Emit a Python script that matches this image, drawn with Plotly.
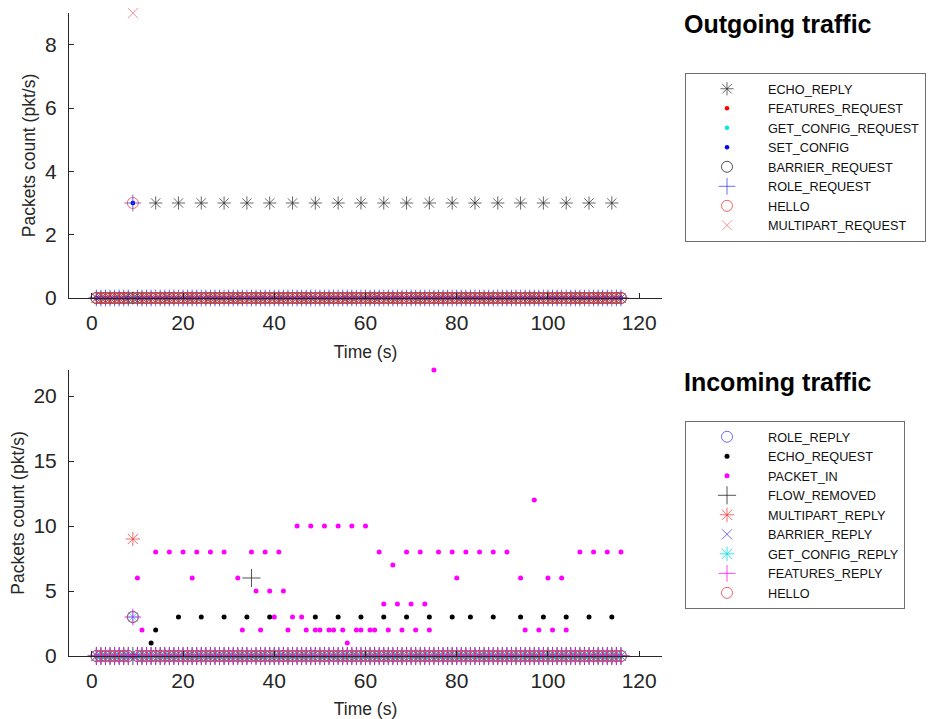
import plotly.graph_objects as go

# ---------------- data ----------------
TIME = list(range(1, 117))  # seconds

# Outgoing traffic: non-zero samples (time, value); all other seconds are 0
ECHO_REPLY_T = [14, 19, 24, 29, 34, 39, 44, 49, 54, 59, 64, 69, 74, 79, 84, 89, 94, 99, 104, 109, 114]
ECHO_REPLY_V = [3, 3, 3, 3, 3, 3, 3, 3, 3, 3, 3, 3, 3, 3, 3, 3, 3, 3, 3, 3, 3]
FEATURES_REQUEST_T = [9]
FEATURES_REQUEST_V = [3]
GET_CONFIG_REQUEST_T = [9]
GET_CONFIG_REQUEST_V = [3]
SET_CONFIG_T = [9]
SET_CONFIG_V = [3]
BARRIER_REQUEST_T = []
BARRIER_REQUEST_V = []
ROLE_REQUEST_T = [9]
ROLE_REQUEST_V = [3]
HELLO_OUT_T = [9]
HELLO_OUT_V = [3]
MULTIPART_REQUEST_T = [9]
MULTIPART_REQUEST_V = [9]

# Incoming traffic
ROLE_REPLY_T = [9]
ROLE_REPLY_V = [3]
ECHO_REQUEST_T = [13, 14, 19, 24, 29, 34, 39, 49, 54, 59, 64, 69, 74, 79, 83, 88, 94, 99, 104, 109, 114]
ECHO_REQUEST_V = [1, 2, 3, 3, 3, 3, 3, 3, 3, 3, 3, 3, 3, 3, 3, 3, 3, 3, 3, 3, 3]
PACKET_IN_T = [10, 11, 14, 17, 20, 22, 23, 26, 29, 32, 33, 35, 36, 37, 38, 39, 40, 41, 42, 43,
               44, 45, 46, 47, 48, 49, 50, 51, 52, 53, 54, 55, 56, 57, 58, 59, 60, 61, 62, 63,
               64, 65, 66, 67, 68, 69, 70, 71, 72, 73, 74, 75, 76, 79, 80, 82, 85, 88, 91, 94,
               95, 97, 98, 100, 101, 103, 104, 107, 110, 113, 116]
PACKET_IN_V = [6, 2, 8, 8, 8, 6, 8, 8, 8, 6, 2, 8, 5, 2, 8, 5, 3, 8, 5, 2,
               3, 10, 3, 2, 10, 2, 2, 10, 2, 2, 10, 2, 1, 10, 2, 2, 10, 2, 2, 8,
               4, 2, 7, 4, 2, 8, 4, 2, 8, 4, 2, 22, 8, 8, 6, 8, 8, 8, 8, 6,
               2, 12, 2, 6, 2, 6, 2, 8, 8, 8, 8]
FLOW_REMOVED_T = [35]
FLOW_REMOVED_V = [6]
MULTIPART_REPLY_T = [9]
MULTIPART_REPLY_V = [9]
BARRIER_REPLY_T = []
BARRIER_REPLY_V = []
GET_CONFIG_REPLY_T = [9]
GET_CONFIG_REPLY_V = [3]
FEATURES_REPLY_T = [9]
FEATURES_REPLY_V = [3]
HELLO_IN_T = [9]
HELLO_IN_V = [3]

X_TICKS = [0, 20, 40, 60, 80, 100, 120]
Y_TICKS_OUT = [0, 2, 4, 6, 8]
Y_TICKS_IN = [0, 5, 10, 15, 20]


def full_series(ts, vs):
    vals = [0] * len(TIME)
    for t, v in zip(ts, vs):
        vals[TIME.index(t)] = v
    return vals


# ---------------- styles ----------------
def sty(symbol, color, size, lw=1.0):
    return dict(symbol=symbol, size=size, color=color, line=dict(color=color, width=lw))

RED_L = "rgba(235,60,60,0.78)"
BLUE_L = "rgba(60,60,235,0.75)"

out_series = [
    ("ECHO_REPLY", ECHO_REPLY_T, ECHO_REPLY_V, sty("asterisk-open", "rgba(40,40,40,0.7)", 11)),
    ("FEATURES_REQUEST", FEATURES_REQUEST_T, FEATURES_REQUEST_V, sty("circle", "#ff0000", 4.5, 0)),
    ("GET_CONFIG_REQUEST", GET_CONFIG_REQUEST_T, GET_CONFIG_REQUEST_V, sty("circle", "#00e5ee", 4.5, 0)),
    ("SET_CONFIG", SET_CONFIG_T, SET_CONFIG_V, sty("circle", "#0000ff", 4.5, 0)),
    ("BARRIER_REQUEST", BARRIER_REQUEST_T, BARRIER_REQUEST_V, sty("circle-open", "rgba(40,40,40,0.8)", 11)),
    ("ROLE_REQUEST", ROLE_REQUEST_T, ROLE_REQUEST_V, sty("cross-thin-open", BLUE_L, 12)),
    ("HELLO", HELLO_OUT_T, HELLO_OUT_V, sty("circle-open", RED_L, 11)),
    ("MULTIPART_REQUEST", MULTIPART_REQUEST_T, MULTIPART_REQUEST_V, sty("x-thin-open", "rgba(235,80,80,0.6)", 10)),
]

in_series = [
    ("ROLE_REPLY", ROLE_REPLY_T, ROLE_REPLY_V, sty("circle-open", BLUE_L, 11)),
    ("ECHO_REQUEST", ECHO_REQUEST_T, ECHO_REQUEST_V, sty("circle", "#000000", 5, 0)),
    ("PACKET_IN", PACKET_IN_T, PACKET_IN_V, sty("circle", "#ff00ff", 5, 0)),
    ("FLOW_REMOVED", FLOW_REMOVED_T, FLOW_REMOVED_V, sty("cross-thin-open", "rgba(40,40,40,0.8)", 13)),
    ("MULTIPART_REPLY", MULTIPART_REPLY_T, MULTIPART_REPLY_V, sty("asterisk-open", "rgba(235,60,60,0.75)", 12)),
    ("BARRIER_REPLY", BARRIER_REPLY_T, BARRIER_REPLY_V, sty("x-thin-open", BLUE_L, 10)),
    ("GET_CONFIG_REPLY", GET_CONFIG_REPLY_T, GET_CONFIG_REPLY_V, sty("asterisk-open", "rgba(0,220,230,0.8)", 12)),
    ("FEATURES_REPLY", FEATURES_REPLY_T, FEATURES_REPLY_V, sty("cross-thin-open", "rgba(255,0,255,0.75)", 12)),
    ("HELLO", HELLO_IN_T, HELLO_IN_V, sty("circle-open", RED_L, 11)),
]

fig = go.Figure()
for name, ts, vs, m in out_series:
    fig.add_trace(go.Scatter(x=TIME, y=full_series(ts, vs), mode="markers", name=name,
                             marker=m, xaxis="x", yaxis="y", legend="legend", cliponaxis=False))
for name, ts, vs, m in in_series:
    fig.add_trace(go.Scatter(x=TIME, y=full_series(ts, vs), mode="markers", name=name,
                             marker=m, xaxis="x2", yaxis="y2", legend="legend2", cliponaxis=False))

W, H = 931, 719
AX = "#262626"
FONT = "Liberation Sans, Arial, sans-serif"

x_dom = [69 / W, 662 / W]
y_dom_top = [1 - 298 / H, 1 - 13 / H]
y_dom_bot = [1 - 656 / H, 1 - 370 / H]

xax = dict(range=[-5, 125], tickvals=X_TICKS, showline=True, linecolor=AX, linewidth=1,
           ticks="inside", ticklen=5, tickcolor=AX, showgrid=False, zeroline=False,
           tickfont=dict(size=21, color=AX, family=FONT), ticklabelstandoff=6,
           title=dict(text="Time (s)", font=dict(size=17.5, color=AX, family=FONT), standoff=12),
           automargin=False, domain=x_dom)
yax = dict(showline=True, linecolor=AX, linewidth=1, ticks="inside", ticklen=5, tickcolor=AX,
           showgrid=False, zeroline=False, tickfont=dict(size=21, color=AX, family=FONT),
           ticklabelstandoff=7,
           title=dict(text="Packets count (pkt/s)", font=dict(size=17.5, color=AX, family=FONT), standoff=4),
           automargin=False)

LEG = dict(xanchor="left", yanchor="top", bordercolor="#6e6e6e", borderwidth=1, bgcolor="white",
           font=dict(size=12.7, color="#111", family=FONT), itemwidth=72, tracegroupgap=0)

fig.update_layout(
    width=W, height=H, margin=dict(l=0, r=0, t=0, b=0),
    plot_bgcolor="white", paper_bgcolor="white",
    font=dict(family=FONT, color=AX),
    xaxis={**xax, "anchor": "y"},
    yaxis={**yax, "range": [0, 9], "tickvals": Y_TICKS_OUT, "domain": y_dom_top, "anchor": "x"},
    xaxis2={**xax, "anchor": "y2"},
    yaxis2={**yax, "range": [0, 22], "tickvals": Y_TICKS_IN, "domain": y_dom_bot, "anchor": "x2"},
    legend={**LEG, "x": 685 / W, "y": 1 - 73 / H},
    legend2={**LEG, "x": 685 / W, "y": 1 - 421 / H},
    annotations=[
        dict(text="<b>Outgoing traffic</b>", x=682 / W, y=1 - 24 / H, xref="paper", yref="paper",
             xanchor="left", yanchor="middle", showarrow=False,
             font=dict(size=25, color="#000", family=FONT)),
        dict(text="<b>Incoming traffic</b>", x=682 / W, y=1 - 382 / H, xref="paper", yref="paper",
             xanchor="left", yanchor="middle", showarrow=False,
             font=dict(size=25, color="#000", family=FONT)),
    ],
)

fig.write_html("out.html", config={"displayModeBar": False},
               post_script="document.body.style.margin='0';document.body.style.overflow='hidden';")
